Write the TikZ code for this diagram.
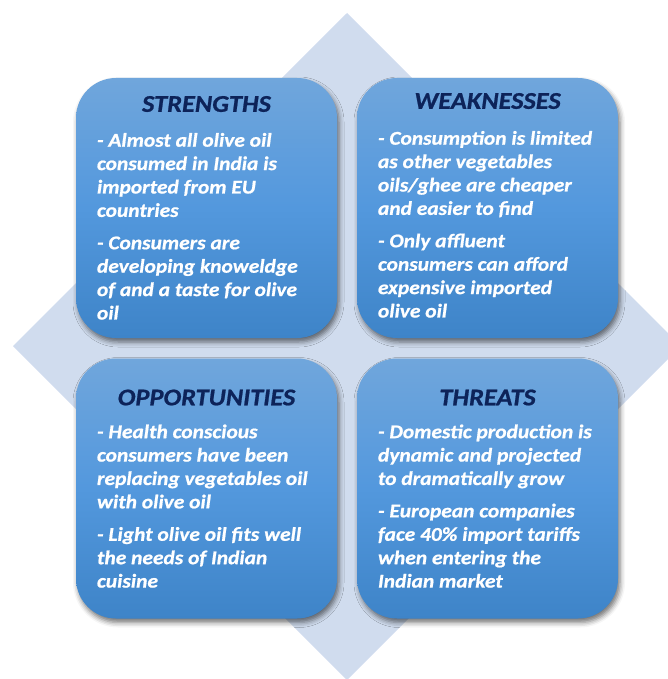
\documentclass[tikz,border=0pt]{standalone}
\usepackage{fontspec}
\newfontfamily\swotfont{Carlito}[FakeStretch=1.1,FakeBold=0.8]
\usetikzlibrary{positioning,shadows.blur}
\definecolor{diamondblue}{RGB}{208,220,238}
\definecolor{boxtop}{RGB}{112,166,220}
\definecolor{boxmid}{RGB}{83,152,221}
\definecolor{boxbottom}{RGB}{62,132,200}
\definecolor{titlenavy}{RGB}{13,35,89}
\begin{document}
\begin{tikzpicture}[x=1pt,y=-1pt,
	swotbox/.style={minimum width=261pt,minimum height=260pt,rounded corners=40pt,
		top color=boxtop,bottom color=boxbottom,middle color=boxmid,
		blur shadow={shadow xshift=2pt,shadow yshift=-4pt,shadow blur radius=5pt,shadow opacity=55}},
	swottitle/.style={font=\swotfont\fontsize{24}{28}\selectfont\bfseries\itshape,text=titlenavy,inner sep=0pt,anchor=base},
	swottext/.style={font=\swotfont\fontsize{19.5}{23.4}\selectfont\bfseries\itshape,text=white,align=left,inner sep=0pt,anchor=north west}]
		\clip (0,0) rectangle (668,679);
		\fill [diamondblue] (347,13) -- (681,346) -- (347,680) -- (13,346) -- cycle; % diamond
		\node [swotbox] (s) at (206.5,208) {};
		\node [swotbox] (w) at (487.5,208) {};
		\node [swotbox] (o) at (206.5,488.5) {};
		\node [swotbox] (t) at (487.5,488.5) {};
		\node [swottitle] (sTitle) at ([yshift=-34pt]s.north) {STRENGTHS};
		\node [swottitle] (wTitle) at ([yshift=-31pt]w.north) {WEAKNESSES};
		\node [swottitle] (oTitle) at ([yshift=-47pt]o.north) {OPPORTUNITIES};
		\node [swottitle] (tTitle) at ([yshift=-47pt]t.north) {THREATS};
		\node [swottext] (sText) at ([xshift=21pt,yshift=-55pt]s.north west) {- Almost all olive oil\\ consumed in India is\\ imported from EU\\ countries\\[9pt] - Consumers are\\ developing knoweldge\\ of and a taste for olive\\ oil};
		\node [swottext] (wText) at ([xshift=21pt,yshift=-53pt]w.north west) {- Consumption is limited\\ as other vegetables\\ oils/ghee are cheaper\\ and easier to find\\[9pt] - Only affluent\\ consumers can afford\\ expensive imported\\ olive oil};
		\node [swottext] (oText) at ([xshift=21pt,yshift=-66pt]o.north west) {- Health conscious\\ consumers have been\\ replacing vegetables oil\\ with olive oil\\[9pt] - Light olive oil fits well\\ the needs of Indian\\ cuisine};
		\node [swottext] (tText) at ([xshift=21pt,yshift=-66pt]t.north west) {- Domestic production is\\ dynamic and projected\\ to dramatically grow\\[9pt] - European companies\\ face 40\% import tariffs\\ when entering the\\ Indian market};
\end{tikzpicture}
\end{document}
